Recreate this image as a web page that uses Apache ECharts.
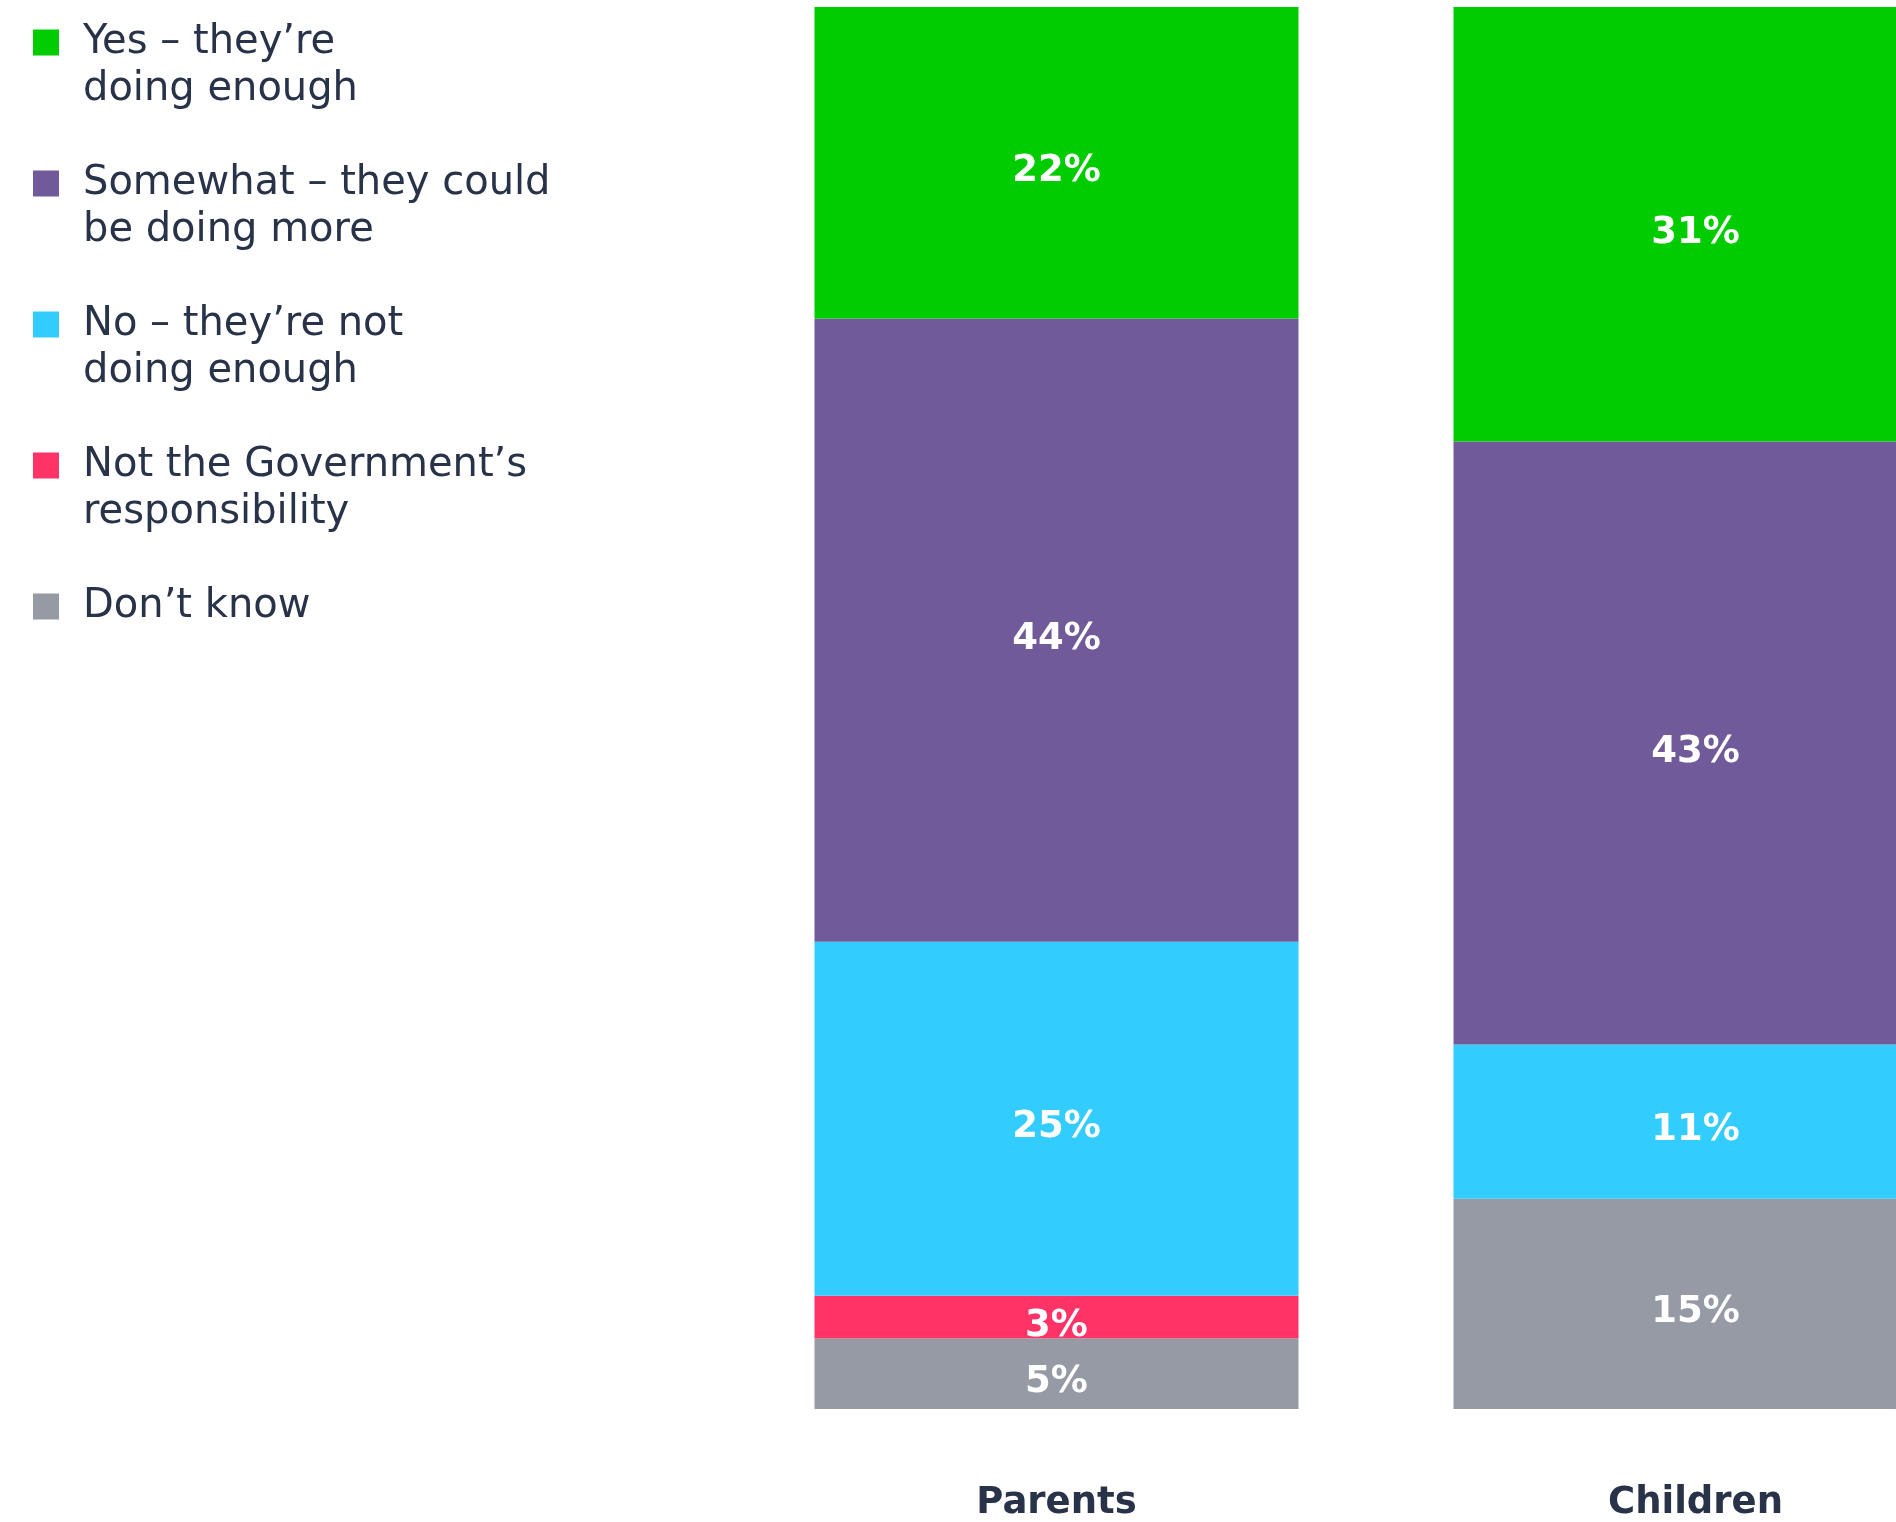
<!DOCTYPE html>
<html><head><meta charset="utf-8">
<script src="https://cdn.jsdelivr.net/npm/echarts@6/dist/echarts.min.js"></script>
<style>html,body{margin:0;padding:0;overflow:hidden;background:#fff;width:1896px;height:1522px}#c{width:2100px;height:1522px}</style>
</head><body><div id="c"></div><script>
const categories = ['Parents', 'Children'];
const yesValues = [22, 31];
const somewhatValues = [44, 43];
const noValues = [25, 11];
const notGovValues = [3, null];
const dontKnowValues = [5, 15];

const seriesNames = ['Yes – they’re doing enough', 'Somewhat – they could be doing more', 'No – they’re not doing enough', 'Not the Government’s responsibility', 'Don’t know'];
const legendLabels = ['Yes – they’re\ndoing enough', 'Somewhat – they could\nbe doing more', 'No – they’re not\ndoing enough', 'Not the Government’s\nresponsibility', 'Don’t know'];
const colors = ['#00CC00', '#705A9A', '#33CCFF', '#FF3366', '#959AA4'];

const allValues = [yesValues, somewhatValues, noValues, notGovValues, dontKnowValues];
const totals = categories.map((c, i) => allValues.reduce((s, arr) => s + (arr[i] || 0), 0));

const TEXT = '#283248';
const FONT = '"DejaVu Sans", sans-serif';

function makeSeries(idx) {
  const vals = allValues[idx];
  return {
    name: seriesNames[idx],
    type: 'bar',
    stack: 'total',
    barWidth: 484,
    itemStyle: { color: colors[idx] },
    label: {
      show: true,
      position: 'inside',
      offset: [0, 9],
      color: '#fff',
      fontFamily: FONT,
      fontWeight: 'bold',
      fontSize: 37,
      formatter: p => (p.data && p.data.raw != null) ? p.data.raw + '%' : ''
    },
    data: vals.map((v, i) => v == null ? null : { value: v / totals[i] * 100, raw: v })
  };
}

// stack from bottom: Don't know, Not Gov, No, Somewhat, Yes
const series = [4, 3, 2, 1, 0].map(makeSeries);

const chart = echarts.init(document.getElementById('c'), null, { renderer: 'canvas' });
chart.setOption({
  animation: false,
  backgroundColor: '#fff',
  legend: {
    data: seriesNames,
    orient: 'vertical',
    left: 33,
    top: -28,
    padding: 0,
    itemGap: 0,
    itemWidth: 26,
    itemHeight: 26,
    icon: 'rect',
    selectedMode: false,
    formatter: name => {
      const t = legendLabels[seriesNames.indexOf(name)];
      return t.indexOf('\n') >= 0 ? '\n' + t : '\n' + t + '\n ';
    },
    textStyle: {
      color: TEXT,
      fontFamily: FONT,
      fontSize: 40,
      lineHeight: 47,
      padding: [0, 0, 0, 19]
    }
  },
  grid: { left: 737, width: 1278, top: 7, height: 1402 },
  xAxis: {
    type: 'category',
    data: categories,
    axisLine: { show: false },
    axisTick: { show: false },
    axisLabel: { margin: 76, color: TEXT, fontFamily: FONT, fontWeight: 'bold', fontSize: 37 }
  },
  yAxis: { type: 'value', min: 0, max: 100, show: false },
  series: series
});
</script></body></html>
